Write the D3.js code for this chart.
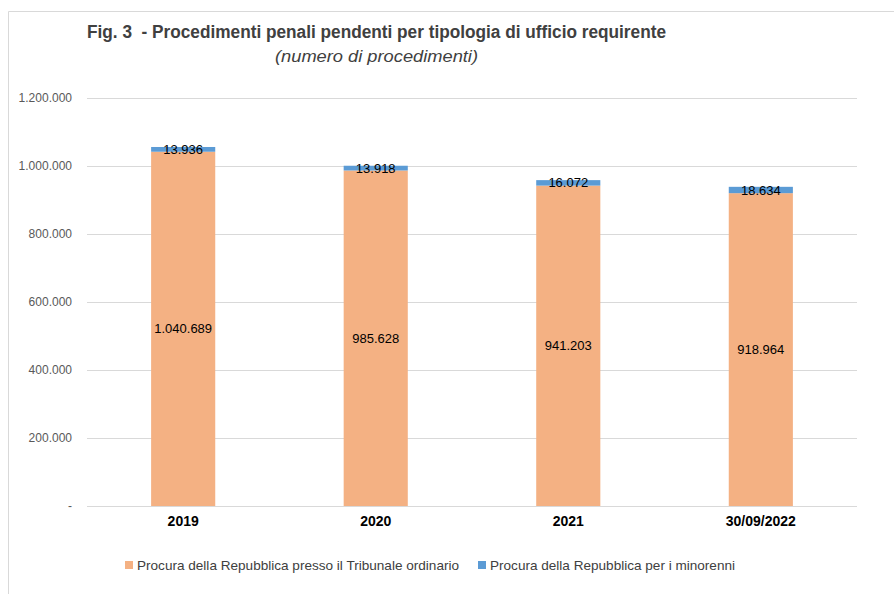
<!DOCTYPE html>
<html>
<head>
<meta charset="utf-8">
<script src="https://cdn.jsdelivr.net/npm/d3@7"></script>
<style>
  body { margin: 0; background: #fff; }
  svg { display: block; font-family: "Liberation Sans Narrow", "Liberation Sans", sans-serif; }
</style>
</head>
<body>
<svg id="chart" width="894" height="594"></svg>
<script>
// Procedimenti penali pendenti per tipologia di ufficio requirente
const categories = ["2019", "2020", "2021", "30/09/2022"];
const ordinario = [1040689, 985628, 941203, 918964];
const minorenni = [13936, 13918, 16072, 18634];
const yTicks = [0, 200000, 400000, 600000, 800000, 1000000, 1200000];
const seriesNames = ["Procura della Repubblica presso il Tribunale ordinario", "Procura della Repubblica per i minorenni"];
const colors = ["#F4B183", "#5B9BD5"];

const fmt = v => v === 0 ? "-" : d3.format(",")(v).replace(/,/g, ".");

const svg = d3.select("#chart");

// outer frame
svg.append("path")
  .attr("d", "M8.5,594 V11.5 H894")
  .attr("fill", "none").attr("stroke", "#d9d9d9").attr("stroke-width", 1);

// titles
svg.append("text")
  .attr("x", 87).attr("y", 38)
  .attr("font-size", 18).attr("font-weight", "bold").attr("fill", "#404040")
  .attr("xml:space", "preserve")
  .attr("textLength", 579).attr("lengthAdjust", "spacingAndGlyphs")
  .text("Fig. 3  - Procedimenti penali pendenti per tipologia di ufficio requirente");
svg.append("text")
  .attr("x", 275).attr("y", 62)
  .attr("font-size", 17).attr("font-style", "italic").attr("fill", "#404040")
  .attr("textLength", 203).attr("lengthAdjust", "spacingAndGlyphs")
  .text("(numero di procedimenti)");

const x = d3.scaleBand().domain(categories).range([87, 857]).paddingInner(0.667).paddingOuter(0.333);
const y = d3.scaleLinear().domain([0, 1200000]).range([506, 97.5]);

// gridlines
svg.append("g").selectAll("line").data(yTicks).join("line")
  .attr("x1", 87).attr("x2", 857)
  .attr("y1", d => Math.round(y(d)) + 0.5).attr("y2", d => Math.round(y(d)) + 0.5)
  .attr("stroke", "#d9d9d9").attr("stroke-width", 1.2);

// y axis labels
const yAxis = d3.axisLeft(y).tickValues(yTicks).tickFormat(fmt).tickSize(0).tickPadding(0);
svg.append("g").attr("transform", "translate(72,0)").call(yAxis)
  .call(g => g.select(".domain").remove())
  .call(g => g.selectAll("text").attr("fill", "#595959").attr("font-size", 12)
    .attr("font-family", "Liberation Sans Narrow, Liberation Sans, sans-serif"));

// x axis labels
const xAxis = d3.axisBottom(x).tickSize(0).tickPadding(0);
svg.append("g").attr("transform", "translate(0,516)").call(xAxis)
  .call(g => g.select(".domain").remove())
  .call(g => g.selectAll("text").attr("fill", "#000").attr("font-size", 14).attr("font-weight", "bold")
    .attr("font-family", "Liberation Sans Narrow, Liberation Sans, sans-serif"));

// stacked bars
const rows = categories.map((c, i) => ({ cat: c, ordinario: ordinario[i], minorenni: minorenni[i] }));
const stack = d3.stack().keys(["ordinario", "minorenni"])(rows);

const layers = svg.append("g").selectAll("g").data(stack).join("g")
  .attr("fill", (d, i) => colors[i]);
layers.selectAll("rect").data(d => d).join("rect")
  .attr("x", d => x(d.data.cat))
  .attr("width", x.bandwidth())
  .attr("y", d => y(d[1]))
  .attr("height", d => y(d[0]) - y(d[1]));

// value labels
const labels = svg.append("g").attr("font-size", 13).attr("fill", "#000").attr("text-anchor", "middle")
  .attr("font-family", "Liberation Sans Narrow, Liberation Sans, sans-serif");
stack.forEach(layer => {
  layer.forEach(d => {
    labels.append("text")
      .attr("x", x(d.data.cat) + x.bandwidth() / 2)
      .attr("y", (y(d[0]) + y(d[1])) / 2)
      .attr("dy", "0.35em")
      .text(fmt(d[1] - d[0]));
  });
});

// legend
const legend = svg.append("g").attr("font-size", 13).attr("fill", "#404040");
const legendX = [125, 478];
const legendLen = [322, 245];
seriesNames.forEach((name, i) => {
  legend.append("rect").attr("x", legendX[i]).attr("y", 561).attr("width", 8).attr("height", 8).attr("fill", colors[i]);
  legend.append("text").attr("x", legendX[i] + 12).attr("y", 565).attr("dy", "0.35em")
    .attr("textLength", legendLen[i]).attr("lengthAdjust", "spacingAndGlyphs")
    .text(name);
});
</script>
</body>
</html>
